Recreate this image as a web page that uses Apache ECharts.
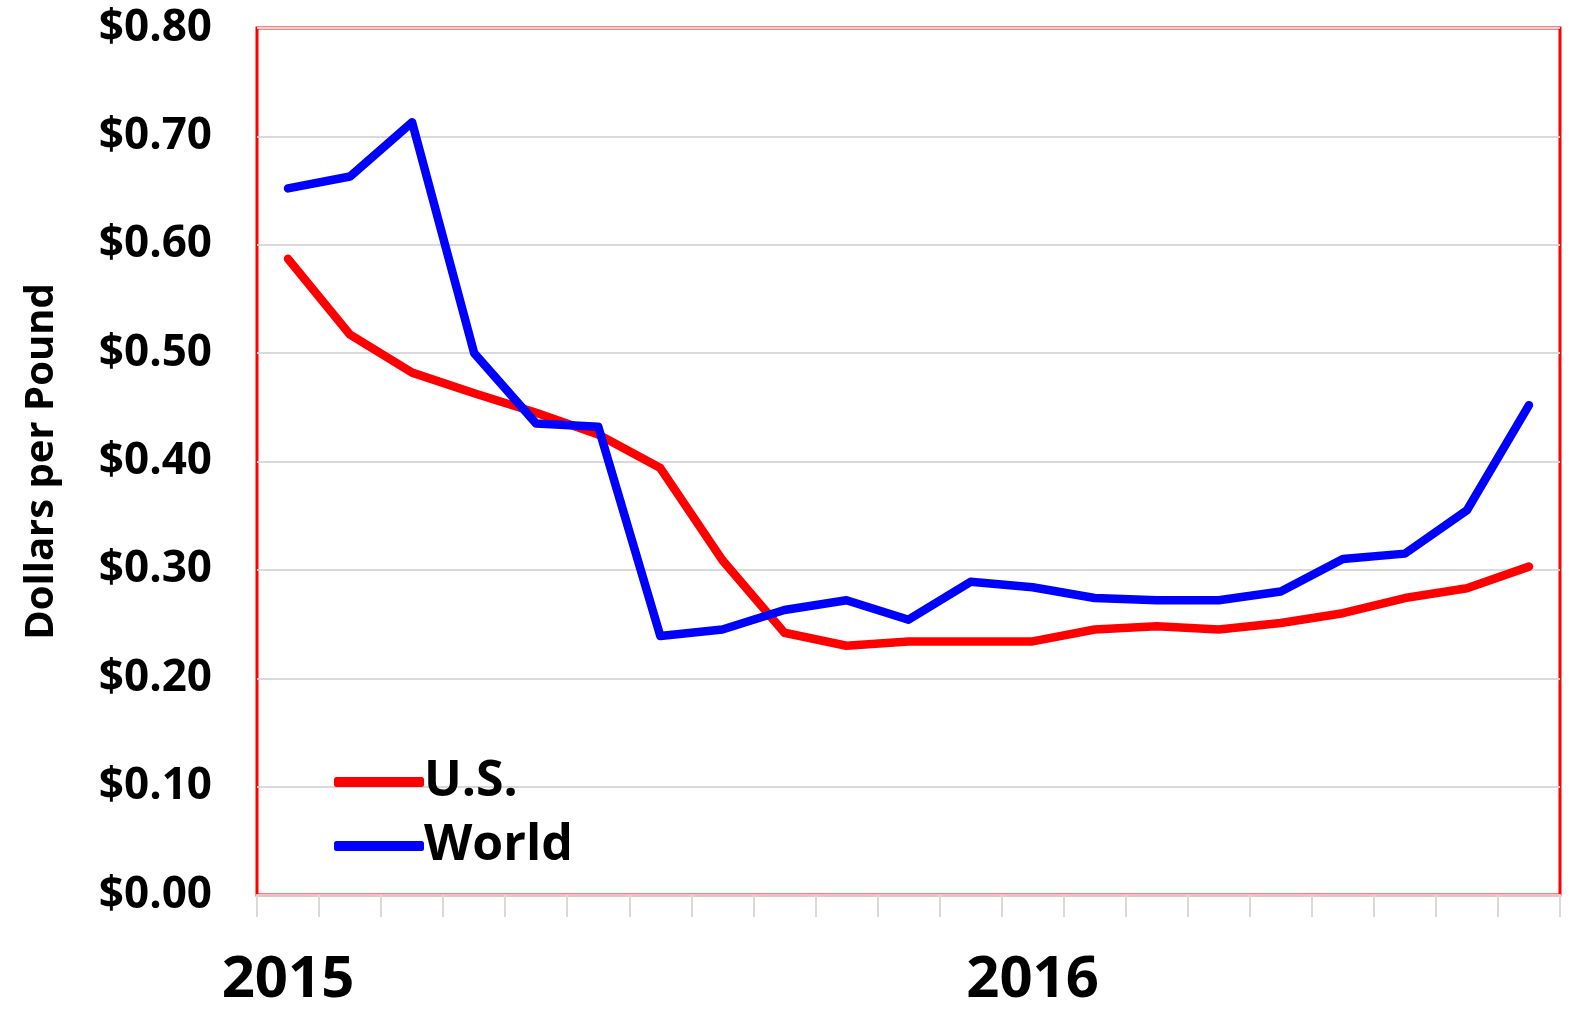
<!DOCTYPE html>
<html>
<head>
<meta charset="utf-8">
<script src="https://cdn.jsdelivr.net/npm/echarts@6/dist/echarts.min.js"></script>
<style>html,body{margin:0;padding:0;background:#fff}#c{width:1574px;height:1009px}</style>
</head>
<body>
<div id="c"></div>
<script>
const categories = ['Jan 2015','Feb 2015','Mar 2015','Apr 2015','May 2015','Jun 2015','Jul 2015','Aug 2015','Sep 2015','Oct 2015','Nov 2015','Dec 2015',
  'Jan 2016','Feb 2016','Mar 2016','Apr 2016','May 2016','Jun 2016','Jul 2016','Aug 2016','Sep 2016'];
const usValues = [0.587,0.517,0.482,0.463,0.445,0.425,0.394,0.309,0.242,0.230,0.234,0.234,0.234,0.245,0.248,0.245,0.251,0.260,0.274,0.283,0.303];
const worldValues = [0.652,0.663,0.713,0.500,0.435,0.432,0.239,0.245,0.263,0.272,0.254,0.289,0.284,0.274,0.272,0.272,0.280,0.310,0.315,0.355,0.452];
const yTicks = { min: 0, max: 0.8, interval: 0.1 };

const FONT = '"Open Sans", "Noto Sans", sans-serif';
const chart = echarts.init(document.getElementById('c'));
chart.setOption({
  animation: false,
  backgroundColor: '#fff',
  grid: { left: 257, right: 14, top: 28, bottom: 114, show: true, borderColor: '#ff0000', borderWidth: 3, containLabel: false },
  legend: {
    orient: 'vertical', left: 329, top: 751, itemGap: 12,
    itemWidth: 90, itemHeight: 10, icon: 'roundRect', itemStyle: { borderWidth: 0 },
    textStyle: { fontFamily: FONT, fontWeight: 'bold', fontSize: 50, color: '#000', lineHeight: 52, padding: [0,0,0,-5] },
    data: ['U.S.', 'World']
  },
  xAxis: {
    type: 'category', data: categories, boundaryGap: true,
    axisLine: { show: true, lineStyle: { color: '#e6c4c4', width: 3 } },
    axisTick: { show: true, interval: 0, length: 22, lineStyle: { color: '#d9d9d9', width: 2 } },
    axisLabel: {
      interval: 0, margin: 56, fontFamily: FONT, fontWeight: 'bold', fontSize: 58, color: '#000',
      formatter: function (v) { return v.indexOf('Jan') === 0 ? v.split(' ')[1] : ''; }
    },
    splitLine: { show: false }
  },
  yAxis: {
    type: 'value', min: yTicks.min, max: yTicks.max, interval: yTicks.interval,
    name: 'Dollars per Pound', nameLocation: 'middle', nameGap: 195, nameRotate: 90,
    nameTextStyle: { fontFamily: FONT, fontWeight: 'bold', fontSize: 40, color: '#000' },
    axisLine: { show: false }, axisTick: { show: false },
    axisLabel: { margin: 45, fontFamily: FONT, fontWeight: 'bold', fontSize: 44, color: '#000',
      formatter: function (v) { return '$' + v.toFixed(2); } },
    splitLine: { show: true, lineStyle: { color: '#d9d9d9', width: 2 } }
  },
  series: [
    { name: 'U.S.', type: 'line', data: usValues, symbol: 'none', showSymbol: false,
      lineStyle: { color: '#ff0000', width: 8.5, cap: 'round', join: 'round' }, itemStyle: { color: '#ff0000' } },
    { name: 'World', type: 'line', data: worldValues, symbol: 'none', showSymbol: false,
      lineStyle: { color: '#0000ff', width: 8.5, cap: 'round', join: 'round' }, itemStyle: { color: '#0000ff' } }
  ]
});
</script>
</body>
</html>
